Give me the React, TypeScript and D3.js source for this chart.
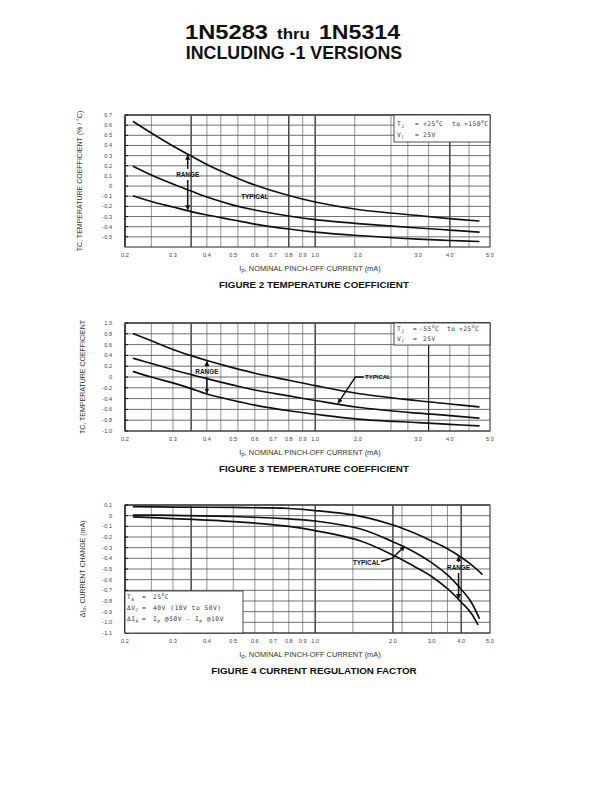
import React from "react";
import * as d3 from "d3";

const FONT = "'Liberation Sans', Arial, Helvetica, sans-serif";

// ---------------- shared x axis (nominal pinch-off current, mA) ----------------
const xTickValues = [0.2, 0.3, 0.4, 0.5, 0.6, 0.7, 0.8, 0.9, 1.0, 2.0, 3.0, 4.0, 5.0];
const xTickLabels = ["0.2", "0.3", "0.4", "0.5", "0.6", "0.7", "0.8", "0.9", "1.0", "2.0", "3.0", "4.0", "5.0"];
const xBreaks = [0.2, 1, 2, 3, 4, 5];
const xBreakFracA = [0, 0.521, 0.638, 0.803, 0.89, 1];
const xBreakFracB = [0, 0.521, 0.734, 0.84, 0.921, 1];

// ---------------- Figure 2 ----------------
const fig2X = [0.215, 0.25, 0.3, 0.35, 0.4, 0.5, 0.6, 0.8, 1.0, 2.0, 3.0, 4.0, 4.7];
const fig2Top = [0.634, 0.523, 0.395, 0.296, 0.212, 0.094, 0.01, -0.093, -0.157, -0.231, -0.29, -0.32, -0.344];
const fig2Typical = [0.193, 0.109, 0.02, -0.049, -0.108, -0.187, -0.236, -0.295, -0.33, -0.369, -0.413, -0.433, -0.453];
const fig2Bottom = [-0.098, -0.152, -0.206, -0.251, -0.285, -0.334, -0.374, -0.423, -0.453, -0.487, -0.522, -0.536, -0.546];
const fig2YTicks = [0.7, 0.6, 0.5, 0.4, 0.3, 0.2, 0.1, 0, -0.1, -0.2, -0.3, -0.4, -0.5];
const fig2YLabels = ["0.7", "0.6", "0.5", "0.4", "0.3", "0.2", "0.1", "0", "-0.1", "-0.2", "-0.3", "-0.4", "-0.5"];
const fig2XGrid = [0.25, 0.35, 0.4, 0.45, 0.52, 0.6, 0.67, 0.8, 0.9, 1.0, 1.9, 2.5, 2.8, 3.3, 4.0, 4.45];
const fig2XMajor = [0.35, 0.8, 1.0, 4.0];

// ---------------- Figure 3 ----------------
const fig3X = [0.215, 0.25, 0.3, 0.35, 0.4, 0.5, 0.6, 0.8, 1.0, 2.0, 3.0, 4.0, 4.7];
const fig3Top = [0.8, 0.67, 0.51, 0.395, 0.305, 0.17, 0.07, -0.06, -0.16, -0.305, -0.44, -0.5, -0.555];
const fig3Typical = [0.345, 0.25, 0.135, 0.045, -0.03, -0.15, -0.24, -0.35, -0.435, -0.56, -0.67, -0.715, -0.76];
const fig3Bottom = [0.1, 0.0, -0.11, -0.215, -0.315, -0.435, -0.52, -0.625, -0.69, -0.78, -0.845, -0.878, -0.905];
const fig3YTicks = [1.0, 0.8, 0.6, 0.4, 0.2, 0, -0.2, -0.4, -0.6, -0.8, -1.0];
const fig3YLabels = ["1.0", "0.8", "0.6", "0.4", "0.2", "0", "-0.2", "-0.4", "-0.6", "-0.8", "-1.0"];
const fig3XGrid = [0.25, 0.3, 0.35, 0.4, 0.45, 0.52, 0.6, 0.67, 0.8, 0.9, 1.0, 1.9, 2.5, 2.8, 3.3, 4.0, 4.45];
const fig3XMajor = [0.35, 1.0, 3.3];

// ---------------- Figure 4 ----------------
const fig4X = [0.215, 0.3, 0.5, 0.8, 1.0, 1.5, 2.0, 2.5, 3.0, 3.5, 4.0, 4.3, 4.7];
const fig4Top = [0.084, 0.081, 0.077, 0.067, 0.048, -0.006, -0.087, -0.162, -0.237, -0.31, -0.39, -0.455, -0.547];
const fig4XMid = [0.215, 0.3, 0.5, 0.8, 1.0, 1.5, 2.0, 2.5, 3.0, 3.5, 4.0, 4.3, 4.6];
const fig4Typical = [0.006, 0.003, -0.008, -0.031, -0.05, -0.125, -0.244, -0.34, -0.44, -0.556, -0.69, -0.8, -0.96];
const fig4XBot = [0.215, 0.3, 0.5, 0.8, 1.0, 1.5, 2.0, 2.5, 3.0, 3.5, 4.0, 4.3, 4.55];
const fig4Bottom = [-0.012, -0.027, -0.055, -0.1, -0.14, -0.237, -0.369, -0.476, -0.57, -0.685, -0.81, -0.905, -1.02];
const fig4YTicks = [0.1, 0, -0.1, -0.2, -0.3, -0.4, -0.5, -0.6, -0.7, -0.8, -0.9, -1.0, -1.1];
const fig4YLabels = ["0.1", "0", "-0.1", "-0.2", "-0.3", "-0.4", "-0.5", "-0.6", "-0.7", "-0.8", "-0.9", "-1.0", "-1.1"];
const fig4XGrid = [0.25, 0.3, 0.35, 0.4, 0.5, 0.6, 0.7, 0.8, 0.9, 1.0, 1.4, 2.0, 2.2, 3.0, 3.5, 4.0];
const fig4XMajor = [0.35, 1.0, 2.0, 4.0];

const L = 125;
const R = 490;

type Scales = { x: d3.ScaleLogarithmic<number, number>; y: d3.ScaleLinear<number, number> };

function makeScales(top: number, bottom: number, yDomain: [number, number], frac: number[]): Scales {
  const x = d3.scaleLog().domain(xBreaks).range(frac.map((f) => L + f * (R - L)));
  const y = d3.scaleLinear().domain(yDomain).range([bottom, top]);
  return { x, y };
}

function valueAt(xs: number[], ys: number[], xv: number) {
  const lx = xs.map((v) => Math.log(v));
  const t = Math.log(xv);
  for (let k = 0; k < lx.length - 1; k++) {
    if (t >= lx[k] && t <= lx[k + 1]) {
      return d3.interpolateNumber(ys[k], ys[k + 1])((t - lx[k]) / (lx[k + 1] - lx[k]));
    }
  }
  return ys[ys.length - 1];
}

function Curve({ s, xs, ys }: { s: Scales; xs: number[]; ys: number[] }) {
  const pts = xs.map((v, k) => [v, ys[k]] as [number, number]);
  const line = d3
    .line<[number, number]>()
    .x((d) => s.x(d[0]))
    .y((d) => s.y(d[1]))
    .curve(d3.curveCatmullRom.alpha(0.5));
  return <path d={line(pts) || ""} fill="none" stroke="#111" strokeWidth={1.7} strokeLinecap="round" />;
}

function Panel({
  s,
  yTicks,
  yLabels,
  xGrid,
  xMajor,
  yTitle,
  yTitleX,
  caption,
  children,
}: {
  s: Scales;
  yTicks: number[];
  yLabels: string[];
  xGrid: number[];
  xMajor: number[];
  yTitle: React.ReactNode;
  yTitleX: number;
  caption: string;
  children?: React.ReactNode;
}) {
  const [y0, y1] = s.y.range();
  const top = Math.min(y0, y1);
  const bottom = Math.max(y0, y1);
  const midY = (top + bottom) / 2;
  return (
    <g>
      {xGrid.map((v, k) => {
        const major = xMajor.includes(v);
        return (
          <line
            key={"vg" + k}
            x1={s.x(v)}
            x2={s.x(v)}
            y1={top}
            y2={bottom}
            stroke={major ? "#1a1a1a" : "#777"}
            strokeWidth={major ? 1.2 : 0.8}
          />
        );
      })}
      {yTicks.map((v, k) => (
        <line key={"hg" + k} x1={L} x2={R} y1={s.y(v)} y2={s.y(v)} stroke="#555" strokeWidth={0.85} />
      ))}
      <rect x={L} y={top} width={R - L} height={bottom - top} fill="none" stroke="#333" strokeWidth={1.1} />
      <line x1={L} x2={R} y1={top} y2={top} stroke="#555" strokeWidth={1.6} />
      <line x1={L} x2={L} y1={top} y2={bottom} stroke="#444" strokeWidth={2} />
      {yTicks.map((v, k) => (
        <g key={"yt" + k}>
          <line x1={L} x2={L + 3} y1={s.y(v)} y2={s.y(v)} stroke="#111" strokeWidth={1} />
          <text x={112} y={s.y(v) + 2} fontSize={5.6} textAnchor="end" fill="#444" fontFamily={FONT}>
            {yLabels[k]}
          </text>
        </g>
      ))}
      {xTickValues.map((v, k) => (
        <text key={"xt" + k} x={s.x(v)} y={bottom + 10} fontSize={5.6} textAnchor="middle" fill="#444" fontFamily={FONT}>
          {xTickLabels[k]}
        </text>
      ))}
      <text x={310} y={bottom + 24} fontSize={7.4} textAnchor="middle" fill="#333" fontFamily={FONT}>
        I<tspan fontSize={5} dy={1.5}>P</tspan>
        <tspan dy={-1.5}>, NOMINAL PINCH-OFF CURRENT (mA)</tspan>
      </text>
      <text
        transform={`translate(${yTitleX},${midY}) rotate(-90)`}
        fontSize={7}
        textAnchor="middle"
        fill="#333"
        fontFamily={FONT}
      >
        {yTitle}
      </text>
      <text x={314} y={bottom + 41} fontSize={9.8} fontWeight="bold" textAnchor="middle" fill="#111" fontFamily={FONT}>
        {caption}
      </text>
      {children}
    </g>
  );
}

function RangeArrow({
  s,
  xv,
  labelY,
  upTo,
  downTo,
}: {
  s: Scales;
  xv: number;
  labelY: number;
  upTo: number;
  downTo: number;
}) {
  const x = s.x(xv);
  const ly = s.y(labelY);
  return (
    <g>
      <line x1={x} x2={x} y1={ly - 6} y2={s.y(upTo) + 1} stroke="#111" strokeWidth={1.5} markerEnd="url(#ah)" />
      <line x1={x} x2={x} y1={ly + 5} y2={s.y(downTo) - 1} stroke="#111" strokeWidth={1.5} markerEnd="url(#ah)" />
      <text x={x} y={ly + 2.3} fontSize={6.4} fontWeight="bold" textAnchor="middle" fill="#111" fontFamily={FONT}>
        RANGE
      </text>
    </g>
  );
}

function Deg() {
  return (
    <tspan fontSize={4.4} dy={-2.6}>
      O
    </tspan>
  );
}

export default function App() {
  const s2 = makeScales(115, 247, [-0.6, 0.7], xBreakFracA);
  const s3 = makeScales(323, 431, [-1.0, 1.0], xBreakFracA);
  const s4 = makeScales(505, 633, [-1.1, 0.1], xBreakFracB);

  const leader3: [number, number][] = [
    [2.08, 0.0],
    [1.92, 0.0],
    [1.45, valueAt(fig3X, fig3Typical, 1.45) + 0.02],
  ];
  const leader4: [number, number][] = [
    [1.8, -0.43],
    [2.0, -0.395],
    [2.26, valueAt(fig4XMid, fig4Typical, 2.26) + 0.01],
  ];
  const lin3 = d3.line<[number, number]>().x((d) => s3.x(d[0])).y((d) => s3.y(d[1]));
  const lin4 = d3.line<[number, number]>().x((d) => s4.x(d[0])).y((d) => s4.y(d[1]));

  const infoFont = {
    fontFamily: "'DejaVu Sans Mono', 'Liberation Mono', monospace",
    fontSize: 6.3,
    fill: "#333",
    letterSpacing: 0.5,
  };

  return (
    <svg
      width={612}
      height={792}
      viewBox="0 0 612 792"
      style={{ position: "absolute", left: 0, top: 0, background: "#fff" }}
      fontFamily={FONT}
    >
      <defs>
        <marker id="ah" viewBox="0 0 10 10" refX={9} refY={5} markerWidth={5} markerHeight={6} markerUnits="userSpaceOnUse" orient="auto">
          <path d="M0,0 L10,5 L0,10 z" fill="#111" />
        </marker>
      </defs>
      <rect x={0} y={0} width={612} height={792} fill="#fff" />

      {/* Title */}
      <text x={185} y={39} fontSize={20} fontWeight="bold" textLength={83} lengthAdjust="spacingAndGlyphs" fill="#111">
        1N5283
      </text>
      <text x={277} y={39} fontSize={15} fontWeight="bold" textLength={33} lengthAdjust="spacingAndGlyphs" fill="#111">
        thru
      </text>
      <text x={319} y={39} fontSize={20} fontWeight="bold" textLength={81} lengthAdjust="spacingAndGlyphs" fill="#111">
        1N5314
      </text>
      <text x={294} y={59} fontSize={17.8} fontWeight="bold" textAnchor="middle" fill="#111">
        INCLUDING -1 VERSIONS
      </text>

      {/* ---------- Figure 2 ---------- */}
      <Panel
        s={s2}
        yTicks={fig2YTicks}
        yLabels={fig2YLabels}
        xGrid={fig2XGrid}
        xMajor={fig2XMajor}
        yTitle={<>TC, TEMPERATURE COEFFICIENT (% / °C)</>}
        yTitleX={82}
        caption="FIGURE 2 TEMPERATURE COEFFICIENT"
      >
        <rect x={394} y={115} width={96} height={27} fill="#fff" stroke="#222" strokeWidth={0.8} />
        <text x={397} y={126} {...infoFont}>
          T<tspan fontSize={4.6} dy={2}>J</tspan>
          <tspan dy={-2} x={415}>=</tspan>
          <tspan x={423}>+25</tspan>
          <Deg />
          <tspan dy={2.6}>C</tspan>
          <tspan x={452}>to</tspan>
          <tspan x={464}>+150</tspan>
          <Deg />
          <tspan dy={2.6}>C</tspan>
        </text>
        <text x={397} y={137} {...infoFont}>
          V<tspan fontSize={4.6} dy={2}>T</tspan>
          <tspan dy={-2} x={415}>=</tspan>
          <tspan x={423}>25V</tspan>
        </text>
        <Curve s={s2} xs={fig2X} ys={fig2Top} />
        <Curve s={s2} xs={fig2X} ys={fig2Typical} />
        <Curve s={s2} xs={fig2X} ys={fig2Bottom} />
        <RangeArrow
          s={s2}
          xv={0.34}
          labelY={0.11}
          upTo={valueAt(fig2X, fig2Top, 0.34)}
          downTo={valueAt(fig2X, fig2Bottom, 0.34)}
        />
        <text x={s2.x(0.6)} y={s2.y(-0.1) + 2.3} fontSize={6.4} fontWeight="bold" textAnchor="middle" fill="#111">
          TYPICAL
        </text>
      </Panel>

      {/* ---------- Figure 3 ---------- */}
      <Panel
        s={s3}
        yTicks={fig3YTicks}
        yLabels={fig3YLabels}
        xGrid={fig3XGrid}
        xMajor={fig3XMajor}
        yTitle={<>TC, TEMPERATURE COEFFICIENT</>}
        yTitleX={85}
        caption="FIGURE 3 TEMPERATURE COEFFICIENT"
      >
        <rect x={394} y={323} width={96} height={22} fill="#fff" stroke="#222" strokeWidth={0.8} />
        <text x={397} y={331} {...infoFont}>
          T<tspan fontSize={4.6} dy={2}>J</tspan>
          <tspan dy={-2} x={413}>=</tspan>
          <tspan x={419}>-55</tspan>
          <Deg />
          <tspan dy={2.6}>C</tspan>
          <tspan x={447}>to</tspan>
          <tspan x={459}>+25</tspan>
          <Deg />
          <tspan dy={2.6}>C</tspan>
        </text>
        <text x={397} y={341} {...infoFont}>
          V<tspan fontSize={4.6} dy={2}>T</tspan>
          <tspan dy={-2} x={413}>=</tspan>
          <tspan x={423}>25V</tspan>
        </text>
        <Curve s={s3} xs={fig3X} ys={fig3Top} />
        <Curve s={s3} xs={fig3X} ys={fig3Typical} />
        <Curve s={s3} xs={fig3X} ys={fig3Bottom} />
        <RangeArrow
          s={s3}
          xv={0.4}
          labelY={0.09}
          upTo={valueAt(fig3X, fig3Top, 0.4)}
          downTo={valueAt(fig3X, fig3Bottom, 0.4)}
        />
        <path d={lin3(leader3) || ""} fill="none" stroke="#111" strokeWidth={1.4} markerEnd="url(#ah)" />
        <text x={s3.x(2.1)} y={s3.y(-0.03)} fontSize={6} fontWeight="bold" fill="#111">
          TYPICAL
        </text>
      </Panel>

      {/* ---------- Figure 4 ---------- */}
      <Panel
        s={s4}
        yTicks={fig4YTicks}
        yLabels={fig4YLabels}
        xGrid={fig4XGrid}
        xMajor={fig4XMajor}
        yTitle={
          <>
            ΔI<tspan fontSize={5} dy={1.5}>P</tspan>
            <tspan dy={-1.5}>, CURRENT CHANGE (mA)</tspan>
          </>
        }
        yTitleX={85}
        caption="FIGURE 4 CURRENT REGULATION FACTOR"
      >
        <Curve s={s4} xs={fig4X} ys={fig4Top} />
        <Curve s={s4} xs={fig4XMid} ys={fig4Typical} />
        <Curve s={s4} xs={fig4XBot} ys={fig4Bottom} />
        <rect x={125} y={591} width={118} height={42} fill="#fff" stroke="#222" strokeWidth={0.8} />
        <text x={127} y={599} {...infoFont}>
          T<tspan fontSize={4.6} dy={2}>A</tspan>
          <tspan dy={-2} x={142}>=</tspan>
          <tspan x={153}>25</tspan>
          <Deg />
          <tspan dy={2.6}>C</tspan>
        </text>
        <text x={127} y={610} {...infoFont}>
          ΔV<tspan fontSize={4.6} dy={2}>T</tspan>
          <tspan dy={-2} x={142}>=</tspan>
          <tspan x={153}>40V (10V to 50V)</tspan>
        </text>
        <text x={127} y={621} {...infoFont}>
          ΔI<tspan fontSize={4.6} dy={2}>P</tspan>
          <tspan dy={-2} x={142}>=</tspan>
          <tspan x={153}>I</tspan>
          <tspan fontSize={4.6} dy={2}>P</tspan>
          <tspan dy={-2}> @50V - I</tspan>
          <tspan fontSize={4.6} dy={2}>P</tspan>
          <tspan dy={-2}> @10V</tspan>
        </text>
        <RangeArrow
          s={s4}
          xv={3.9}
          labelY={-0.49}
          upTo={valueAt(fig4X, fig4Top, 3.9)}
          downTo={valueAt(fig4XBot, fig4Bottom, 3.9)}
        />
        <path d={lin4(leader4) || ""} fill="none" stroke="#111" strokeWidth={1.4} markerEnd="url(#ah)" />
        <text x={s4.x(1.4)} y={s4.y(-0.46)} fontSize={6.4} fontWeight="bold" fill="#111">
          TYPICAL
        </text>
      </Panel>
    </svg>
  );
}
